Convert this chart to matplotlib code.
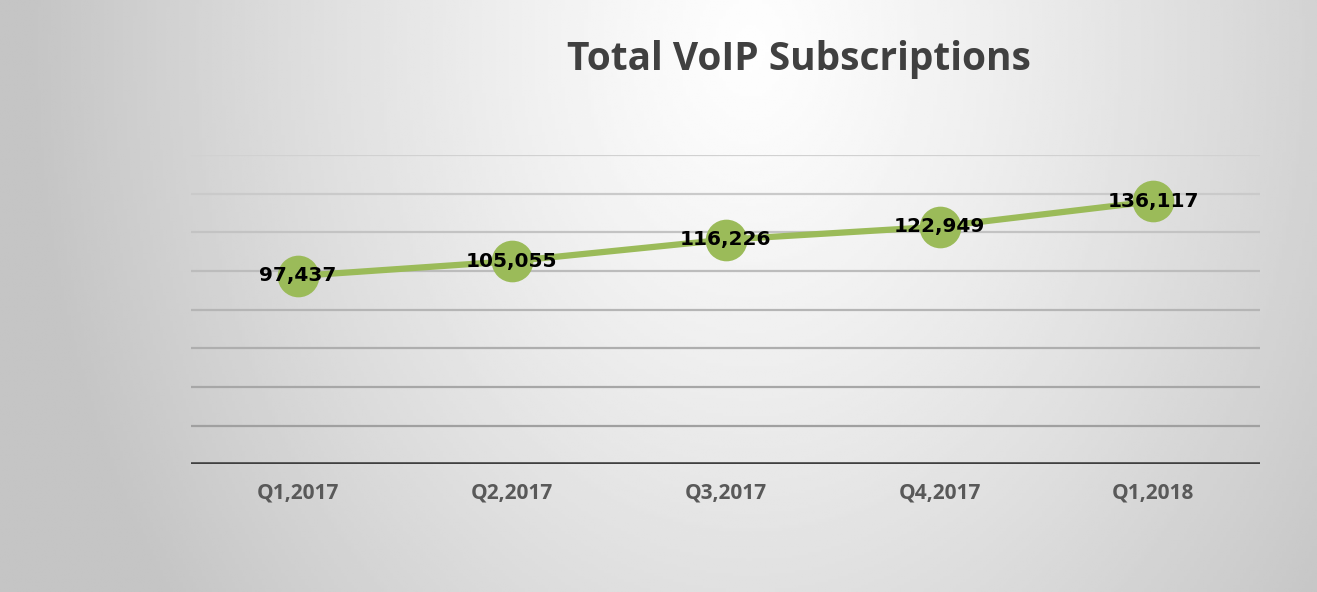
import numpy as np
import matplotlib.pyplot as plt

# data
quarters = ['Q1,2017', 'Q2,2017', 'Q3,2017', 'Q4,2017', 'Q1,2018']
subscriptions = [97437, 105055, 116226, 122949, 136117]
y_ticks = list(range(0, 160001, 20000))

plt.rcParams['font.family'] = ['Open Sans', 'DejaVu Sans']

fig = plt.figure(figsize=(13.17, 5.92), dpi=100)

# grey background, lightest near the title, darker toward the sides
bg = fig.add_axes([0, 0, 1, 1], zorder=0)
gx, gy = np.meshgrid(np.linspace(0, 1, 400), np.linspace(0, 1, 200))
dist = np.sqrt(((gx - 0.57) / 0.55) ** 2 + ((gy - 0.08) / 1.6) ** 2)
shade = 0.995 - 0.225 * np.clip(dist, 0, 1) ** 1.2
bg.imshow(shade, cmap='gray', vmin=0, vmax=1, aspect='auto', extent=[0, 1, 1, 0])
bg.axis('off')

ax = fig.add_axes([0.145, 0.216, 0.812, 0.522], zorder=1)
ax.patch.set_alpha(0)
x = np.arange(len(quarters))

# gridlines get darker toward the bottom
grid_vals = y_ticks[1:]
for v in grid_vals:
    g = 0.60 + 0.22 * (v / grid_vals[-1])
    ax.axhline(v, color=(g, g, g), lw=1.6, zorder=1)
ax.axhline(0, color='#404040', lw=2.6, zorder=2)

ax.plot(x, subscriptions, color='#9bbb59', lw=4.5, zorder=3,
        marker='o', markersize=30, markerfacecolor='#9bbb59', markeredgewidth=0)

for xi, v in zip(x, subscriptions):
    ax.text(xi, v, f'{v:,}', ha='center', va='center', fontsize=14.5,
            fontweight='bold', color='black', family='DejaVu Sans', zorder=4)

ax.set_xlim(-0.5, len(quarters) - 0.5)
ax.set_ylim(0, 160000)
ax.set_xticks(x)
ax.set_xticklabels(quarters, fontsize=15, fontweight='bold', color='#595959')
ax.set_yticks([])
ax.tick_params(axis='x', length=0, pad=13)
for s in ax.spines.values():
    s.set_visible(False)

fig.text(0.607, 0.882, 'Total VoIP Subscriptions', ha='center', va='baseline',
         fontsize=28, fontweight='bold', color='#404040')

fig.savefig('out.png', dpi=100)
